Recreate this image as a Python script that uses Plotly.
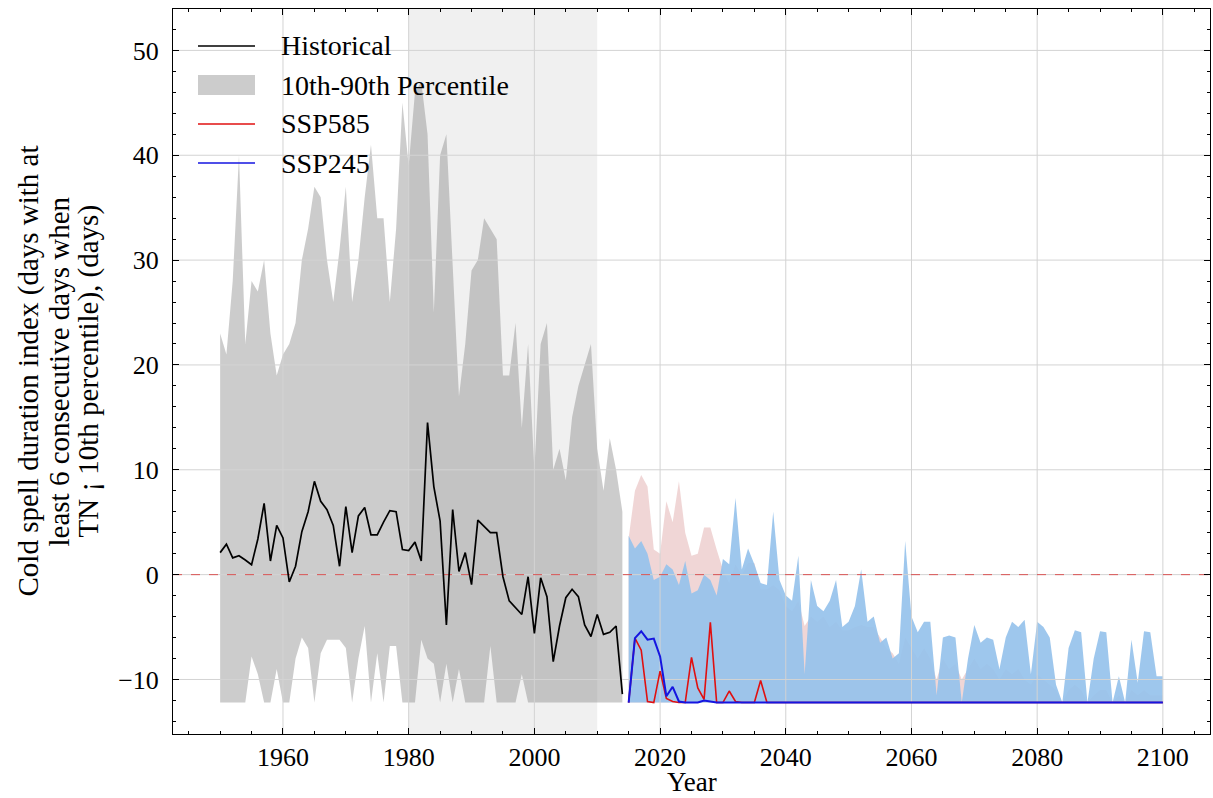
import plotly.graph_objects as go

# ---------------- data ----------------
hist_years = list(range(1950, 2015))
hist_mean = [2.1, 2.9, 1.6, 1.8, 1.4, 0.95, 3.4, 6.8, 1.3, 4.7,
             3.5, -0.7, 0.8, 4.1, 6.0, 8.9, 7.0, 6.2, 4.7, 0.8,
             6.5, 2.1, 5.6, 6.4, 3.8, 3.8, 5.0, 6.1, 6.0, 2.4,
             2.3, 3.1, 1.3, 14.5, 8.4, 5.1, -4.8, 6.2, 0.3, 2.1,
             -0.95, 5.2, 4.6, 4.0, 4.0, -0.2, -2.5, -3.2, -3.8, -0.2,
             -5.6, -0.3, -2.1, -8.3, -4.9, -2.2, -1.4, -2.1, -4.8, -5.9,
             -3.8, -5.7, -5.5, -4.9, -11.4]
hist_p90 = [23, 21, 28, 40, 22, 28, 27, 30, 23, 19,
            21, 22, 24, 30, 33, 37, 36, 30, 26, 31,
            37, 26, 30, 36, 41, 34, 34, 26, 33, 45,
            39, 46, 47, 42, 25, 40, 42, 30, 17, 22,
            29, 30, 34, 33, 32, 19, 19, 24, 14, 22,
            10, 22, 24, 10, 12, 9, 15, 18, 20, 22,
            12, 8, 13, 10, 6]
hist_p10 = [-12.2, -12.2, -12.2, -12.2, -12.2, -7.8, -9.5, -12.2, -12.2, -9.0,
            -12.2, -12.2, -8.0, -6.0, -7.0, -12.2, -7.5, -6.2, -6.2, -6.2,
            -7.0, -12.2, -8.0, -4.9, -12.2, -7.5, -12.2, -6.8, -6.8, -12.2,
            -12.2, -12.2, -6.2, -8.0, -8.5, -12.2, -8.5, -12.2, -9.0, -12.2,
            -12.2, -12.2, -12.2, -6.8, -12.2, -12.2, -12.2, -12.2, -9.5, -12.2,
            -12.2, -12.2, -12.2, -12.2, -12.2, -12.2, -12.2, -12.2, -12.2, -12.2,
            -12.2, -12.2, -12.2, -12.2, -12.2]

ssp_years = list(range(2015, 2101))
ssp585_mean = [-12.2, -6.05, -7.2, -12.1, -12.2, -9.2, -11.8, -12.1, -12.2, -12.2,
               -7.9, -10.8, -11.9, -4.55, -12.2, -12.2, -11.1, -12.1, -12.2, -12.2,
               -12.2, -10.1, -12.2, -12.2, -12.2, -12.2, -12.2, -12.2, -12.2, -12.2,
               -12.2, -12.2, -12.2, -12.2, -12.2, -12.2, -12.2, -12.2, -12.2, -12.2,
               -12.2, -12.2, -12.2, -12.2, -12.2, -12.2, -12.2, -12.2, -12.2, -12.2,
               -12.2, -12.2, -12.2, -12.2, -12.2, -12.2, -12.2, -12.2, -12.2, -12.2,
               -12.2, -12.2, -12.2, -12.2, -12.2, -12.2, -12.2, -12.2, -12.2, -12.2,
               -12.2, -12.2, -12.2, -12.2, -12.2, -12.2, -12.2, -12.2, -12.2, -12.2,
               -12.2, -12.2, -12.2, -12.2, -12.2, -12.2]
ssp245_mean = [-12.2, -6.05, -5.4, -6.2, -6.1, -7.8, -11.6, -10.7, -12.1, -12.2,
               -12.2, -12.2, -12.0, -12.1, -12.2, -12.2, -12.2, -12.2, -12.2, -12.2,
               -12.2, -12.2, -12.2, -12.2, -12.2, -12.2, -12.2, -12.2, -12.2, -12.2,
               -12.2, -12.2, -12.2, -12.2, -12.2, -12.2, -12.2, -12.2, -12.2, -12.2,
               -12.2, -12.2, -12.2, -12.2, -12.2, -12.2, -12.2, -12.2, -12.2, -12.2,
               -12.2, -12.2, -12.2, -12.2, -12.2, -12.2, -12.2, -12.2, -12.2, -12.2,
               -12.2, -12.2, -12.2, -12.2, -12.2, -12.2, -12.2, -12.2, -12.2, -12.2,
               -12.2, -12.2, -12.2, -12.2, -12.2, -12.2, -12.2, -12.2, -12.2, -12.2,
               -12.2, -12.2, -12.2, -12.2, -12.2, -12.2]
ssp585_p90 = [3.5, 8.0, 9.5, 8.4, 2.4, 2.0, 7.0, 5.0, 8.9, 4.0,
              1.8, 2.0, 4.5, 4.5, 2.4, 0.5, -0.8, 1.0, 0.0, 1.1,
              1.1, -1.4, -1.4, -1.0, -1.5, -3.0, -3.5, -2.5, -4.9, -4.0,
              -4.5, -4.0, -5.0, -4.5, -5.3, -5.3, -5.0, -4.8, -5.0, -5.0,
              -6.0, -7.0, -7.5, -8.5, -6.0, -7.0, -8.0, -7.0, -8.0, -10.0,
              -8.0, -9.0, -8.5, -10.0, -9.0, -8.0, -9.0, -8.5, -9.0, -10.0,
              -9.0, -9.5, -9.0, -10.0, -10.5, -9.5, -10.0, -10.5, -11.0, -12.2,
              -11.0, -10.5, -11.0, -12.2, -11.5, -11.0, -11.0, -12.2, -11.5, -12.2,
              -11.0, -11.5, -11.0, -11.5, -11.5, -11.5]
ssp245_p90 = [3.7, 2.5, 3.2, 2.0, -0.5, -0.2, 1.0, 0.5, -1.0, 1.3,
              -1.8, -1.5, 0.0, -0.5, -2.0, 1.5, 1.0, 7.3, 0.5, 2.5,
              1.0, -0.8, -1.0, 6.0, -0.5, -2.0, -2.5, 1.8, -9.5, -0.5,
              -3.0, -3.5, -2.5, -0.5, -5.0, -4.5, -3.0, 0.5, -4.5, -4.0,
              -6.5, -6.0, -8.0, -7.5, 3.2, -4.0, -5.5, -4.5, -4.5, -11.5,
              -6.0, -5.8, -6.0, -12.2, -8.0, -4.8, -6.5, -6.0, -6.2, -9.0,
              -6.0, -4.5, -5.0, -4.3, -9.5, -4.5, -5.0, -6.0, -10.5, -12.2,
              -7.0, -5.3, -5.5, -12.2, -8.0, -5.4, -5.5, -12.2, -9.7, -12.2,
              -6.2, -10.3, -5.4, -5.5, -9.7, -9.7]
ssp_p10 = [-12.2, -12.2, -12.2, -12.2, -12.2, -12.2, -12.2, -12.2, -12.2, -12.2,
           -12.2, -12.2, -12.2, -12.2, -12.2, -12.2, -12.2, -12.2, -12.2, -12.2,
           -12.2, -12.2, -12.2, -12.2, -12.2, -12.2, -12.2, -12.2, -12.2, -12.2,
           -12.2, -12.2, -12.2, -12.2, -12.2, -12.2, -12.2, -12.2, -12.2, -12.2,
           -12.2, -12.2, -12.2, -12.2, -12.2, -12.2, -12.2, -12.2, -12.2, -12.2,
           -12.2, -12.2, -12.2, -12.2, -12.2, -12.2, -12.2, -12.2, -12.2, -12.2,
           -12.2, -12.2, -12.2, -12.2, -12.2, -12.2, -12.2, -12.2, -12.2, -12.2,
           -12.2, -12.2, -12.2, -12.2, -12.2, -12.2, -12.2, -12.2, -12.2, -12.2,
           -12.2, -12.2, -12.2, -12.2, -12.2, -12.2]

x_ticks = [1960, 1980, 2000, 2020, 2040, 2060, 2080, 2100]
y_ticks = [-10, 0, 10, 20, 30, 40, 50]
ref_period = [1980, 2010]
x_title = "Year"
ylabel_lines = ["Cold spell duration index (days with at",
                "least 6 consecutive days when",
                "TN ¡ 10th percentile), (days)"]
legend_labels = ["Historical", "10th-90th Percentile", "SSP585", "SSP245"]

# ---------------- styling ----------------
FONT = "Liberation Serif"
X_RANGE = [1942.5, 2107.5]
Y_RANGE = [-15.2, 53.95]
GRID = "#d3d3d3"
W, H = 1213, 798
ML, MR, MT, MB = 173, 3, 9, 64
PW, PH = W - ML - MR, H - MT - MB
GRAY_FILL = "rgba(128,128,128,0.4)"
C_HIST, C_585, C_245 = "black", "#e01010", "#1515e0"


def px_x(p):
    return (p - ML) / PW


def px_y(p):
    return (H - MB - p) / PH


fig = go.Figure()

# historical percentile band
fig.add_trace(go.Scatter(x=hist_years, y=hist_p10, mode="lines", line=dict(width=0),
                         showlegend=False, hoverinfo="skip"))
fig.add_trace(go.Scatter(x=hist_years, y=hist_p90, mode="lines", line=dict(width=0),
                         fill="tonexty", fillcolor=GRAY_FILL,
                         name=legend_labels[1], showlegend=False))
# SSP585 band
fig.add_trace(go.Scatter(x=ssp_years, y=ssp_p10, mode="lines", line=dict(width=0),
                         showlegend=False, hoverinfo="skip"))
fig.add_trace(go.Scatter(x=ssp_years, y=ssp585_p90, mode="lines", line=dict(width=0),
                         fill="tonexty", fillcolor="rgba(228,180,180,0.55)",
                         showlegend=False, hoverinfo="skip"))
# SSP245 band
fig.add_trace(go.Scatter(x=ssp_years, y=ssp_p10, mode="lines", line=dict(width=0),
                         showlegend=False, hoverinfo="skip"))
fig.add_trace(go.Scatter(x=ssp_years, y=ssp245_p90, mode="lines", line=dict(width=0),
                         fill="tonexty", fillcolor="rgba(150,194,236,0.92)",
                         showlegend=False, hoverinfo="skip"))

# grid lines (above fills, below lines)
gx, gy = [], []
for v in x_ticks:
    gx += [v, v, None]
    gy += [Y_RANGE[0], Y_RANGE[1], None]
fig.add_trace(go.Scatter(x=gx, y=gy, mode="lines", line=dict(color=GRID, width=1),
                         showlegend=False, hoverinfo="skip"))
hx, hy = [], []
for v in y_ticks:
    hx += [X_RANGE[0], X_RANGE[1], None]
    hy += [v, v, None]
fig.add_trace(go.Scatter(x=hx, y=hy, mode="lines", line=dict(color=GRID, width=1),
                         showlegend=False, hoverinfo="skip"))

# zero reference line
fig.add_trace(go.Scatter(x=X_RANGE, y=[0, 0], mode="lines",
                         line=dict(color="rgba(220,30,30,0.7)", width=1, dash="dash"),
                         showlegend=False, hoverinfo="skip"))

# mean lines
fig.add_trace(go.Scatter(x=hist_years, y=hist_mean, mode="lines",
                         line=dict(color=C_HIST, width=1.7), name=legend_labels[0], showlegend=False))
fig.add_trace(go.Scatter(x=ssp_years, y=ssp585_mean, mode="lines",
                         line=dict(color=C_585, width=1.6), name=legend_labels[2], showlegend=False))
fig.add_trace(go.Scatter(x=ssp_years, y=ssp245_mean, mode="lines",
                         line=dict(color=C_245, width=2), name=legend_labels[3], showlegend=False))

# reference period shading
fig.add_shape(type="rect", xref="x", yref="paper", x0=ref_period[0], x1=ref_period[1],
              y0=0, y1=1, fillcolor="#f0f0f0", line=dict(width=0), layer="below")

# legend (frameless, matplotlib style)
row_y = [46, 85, 124, 163]
handle_x0, handle_x1, text_x = 198, 255, 279
for i, lab in enumerate(legend_labels):
    yc = px_y(row_y[i])
    if i == 1:
        fig.add_shape(type="rect", xref="paper", yref="paper",
                      x0=px_x(handle_x0), x1=px_x(handle_x1),
                      y0=px_y(row_y[i] + 10), y1=px_y(row_y[i] - 10),
                      fillcolor="#cccccc", line=dict(width=0), layer="above")
    else:
        col = [C_HIST, None, C_585, C_245][i]
        fig.add_shape(type="line", xref="paper", yref="paper",
                      x0=px_x(handle_x0), x1=px_x(handle_x1), y0=yc, y1=yc,
                      line=dict(color=col, width=1.6), layer="above")
    fig.add_annotation(text=lab, xref="paper", yref="paper", x=px_x(text_x), y=yc,
                       xanchor="left", yanchor="middle", showarrow=False,
                       font=dict(family=FONT, size=28, color="black"))

# y-axis label (three lines)
for i, txt in enumerate(ylabel_lines):
    fig.add_annotation(text=txt, xref="paper", yref="paper", x=0, y=0.5,
                       xanchor="center", yanchor="middle", textangle=-90,
                       xshift=-145 + 30 * i, showarrow=False,
                       font=dict(family=FONT, size=29, color="black"))

# x-axis title
fig.add_annotation(text=x_title, xref="paper", yref="paper", x=0.5, y=px_y(799),
                   xanchor="center", yanchor="bottom", showarrow=False,
                   font=dict(family=FONT, size=27, color="black"))

axis_common = dict(showgrid=False, zeroline=False, showline=True, linecolor="black",
                   linewidth=1, mirror="allticks", ticks="inside", ticklen=6,
                   tickcolor="black", automargin=False,
                   tickfont=dict(family=FONT, size=26, color="black"))

fig.update_xaxes(range=X_RANGE, tickvals=x_ticks,
                 minor=dict(dtick=5, tick0=1960, ticks="inside", ticklen=3, tickcolor="black", showgrid=False),
                 **axis_common)
fig.update_yaxes(range=Y_RANGE, tickvals=y_ticks,
                 minor=dict(dtick=2, tick0=0, ticks="inside", ticklen=3, tickcolor="black", showgrid=False),
                 ticklabelstandoff=8, **axis_common)

fig.update_layout(
    width=W, height=H, autosize=False,
    margin=dict(l=ML, r=MR, t=MT, b=MB),
    plot_bgcolor="white", paper_bgcolor="white",
    font=dict(family=FONT, color="black"),
    showlegend=False,
)

fig.write_html("out.html", config={"displayModeBar": False},
               post_script="document.body.style.margin='0px';")
